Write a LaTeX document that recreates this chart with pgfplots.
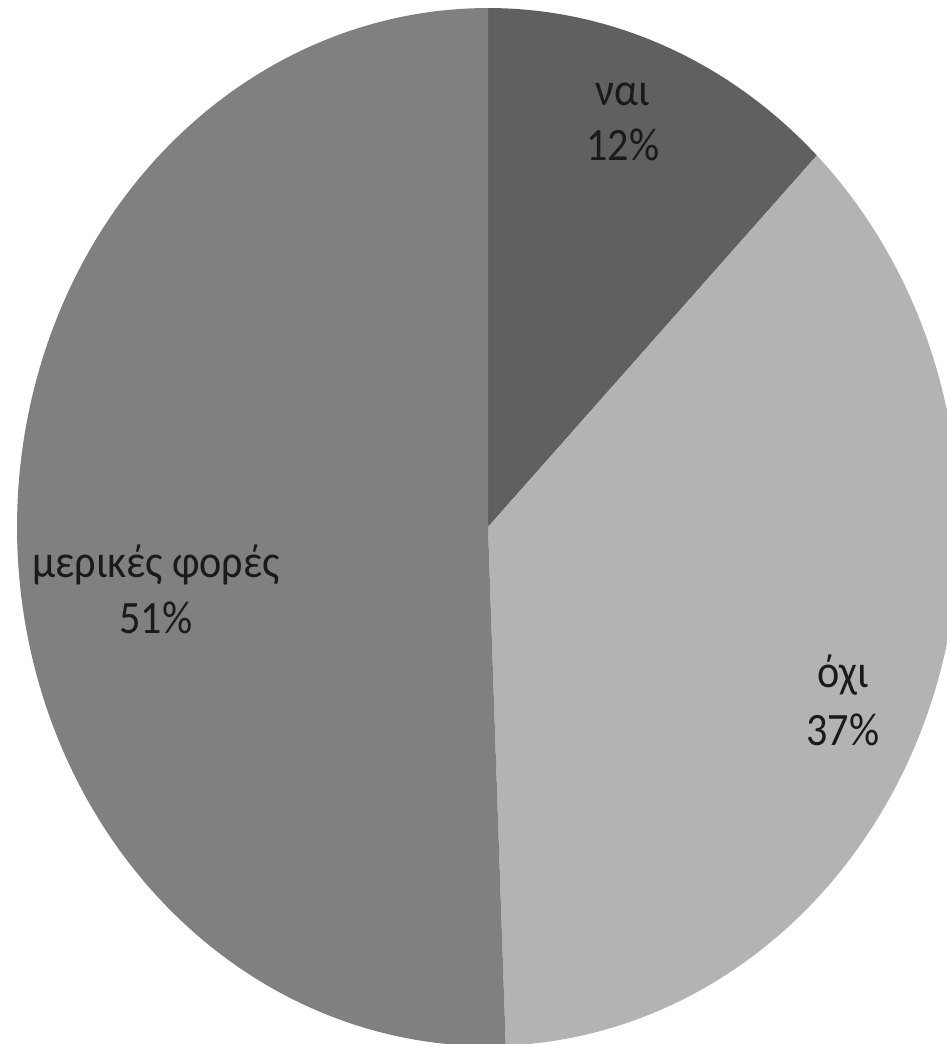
\documentclass[border=0pt]{standalone}
\usepackage{fontspec}
\setmainfont{Carlito}
\usepackage{pgfplots}
\usepackage{pgfplotstable}
\pgfplotsset{compat=1.18}
\definecolor{pieA}{HTML}{606060}
\definecolor{pieB}{HTML}{B3B3B3}
\definecolor{pieC}{HTML}{808080}
\definecolor{lbl}{HTML}{1A1A1A}
\tikzset{lab/.style={anchor=base, font=\fontsize{12}{15}\selectfont, text=lbl, inner sep=0pt, yscale=1.1}}

% share of each answer (percent); labels are the rounded values
\pgfplotstableread{
share pct
12.3 12
37.1 37
50.6 51
}\piedata

\begin{document}
\begin{tikzpicture}
\pgfplotstablegetelem{0}{share}\of\piedata \pgfmathsetmacro\aB{90-3.6*\pgfplotsretval}
\pgfplotstablegetelem{1}{share}\of\piedata \pgfmathsetmacro\aC{\aB-3.6*\pgfplotsretval}
\pgfplotstablegetelem{2}{share}\of\piedata \pgfmathsetmacro\aD{\aC-3.6*\pgfplotsretval}
\def\cx{488}\def\cy{527}\def\rx{471}\def\ry{519}
\begin{axis}[width=9.47cm, height=10.44cm, scale only axis,
  xmin=0, xmax=947, ymin=0, ymax=1044, y dir=reverse,
  hide axis, clip=true, samples=150]
\addplot[draw=none, fill=pieA, domain=\aB:90] ({\cx+\rx*cos(x)},{\cy-\ry*sin(x)}) -- (axis cs:\cx,\cy) -- cycle;
\addplot[draw=none, fill=pieB, domain=\aC:\aB] ({\cx+\rx*cos(x)},{\cy-\ry*sin(x)}) -- (axis cs:\cx,\cy) -- cycle;
\addplot[draw=none, fill=pieC, domain=\aD:\aC] ({\cx+\rx*cos(x)},{\cy-\ry*sin(x)}) -- (axis cs:\cx,\cy) -- cycle;

\node[lab] at (axis cs:623,105) {ναι};
\node[lab] at (axis cs:623,160) {12\%};
\node[lab] at (axis cs:843,687) {όχι};
\node[lab] at (axis cs:843,745) {37\%};
\node[lab] at (axis cs:156,577) {μερικές φορές};
\node[lab] at (axis cs:156,633) {51\%};
\end{axis}
\pgfresetboundingbox
\path (current axis.south west) rectangle (current axis.north east);
\end{tikzpicture}
\end{document}
